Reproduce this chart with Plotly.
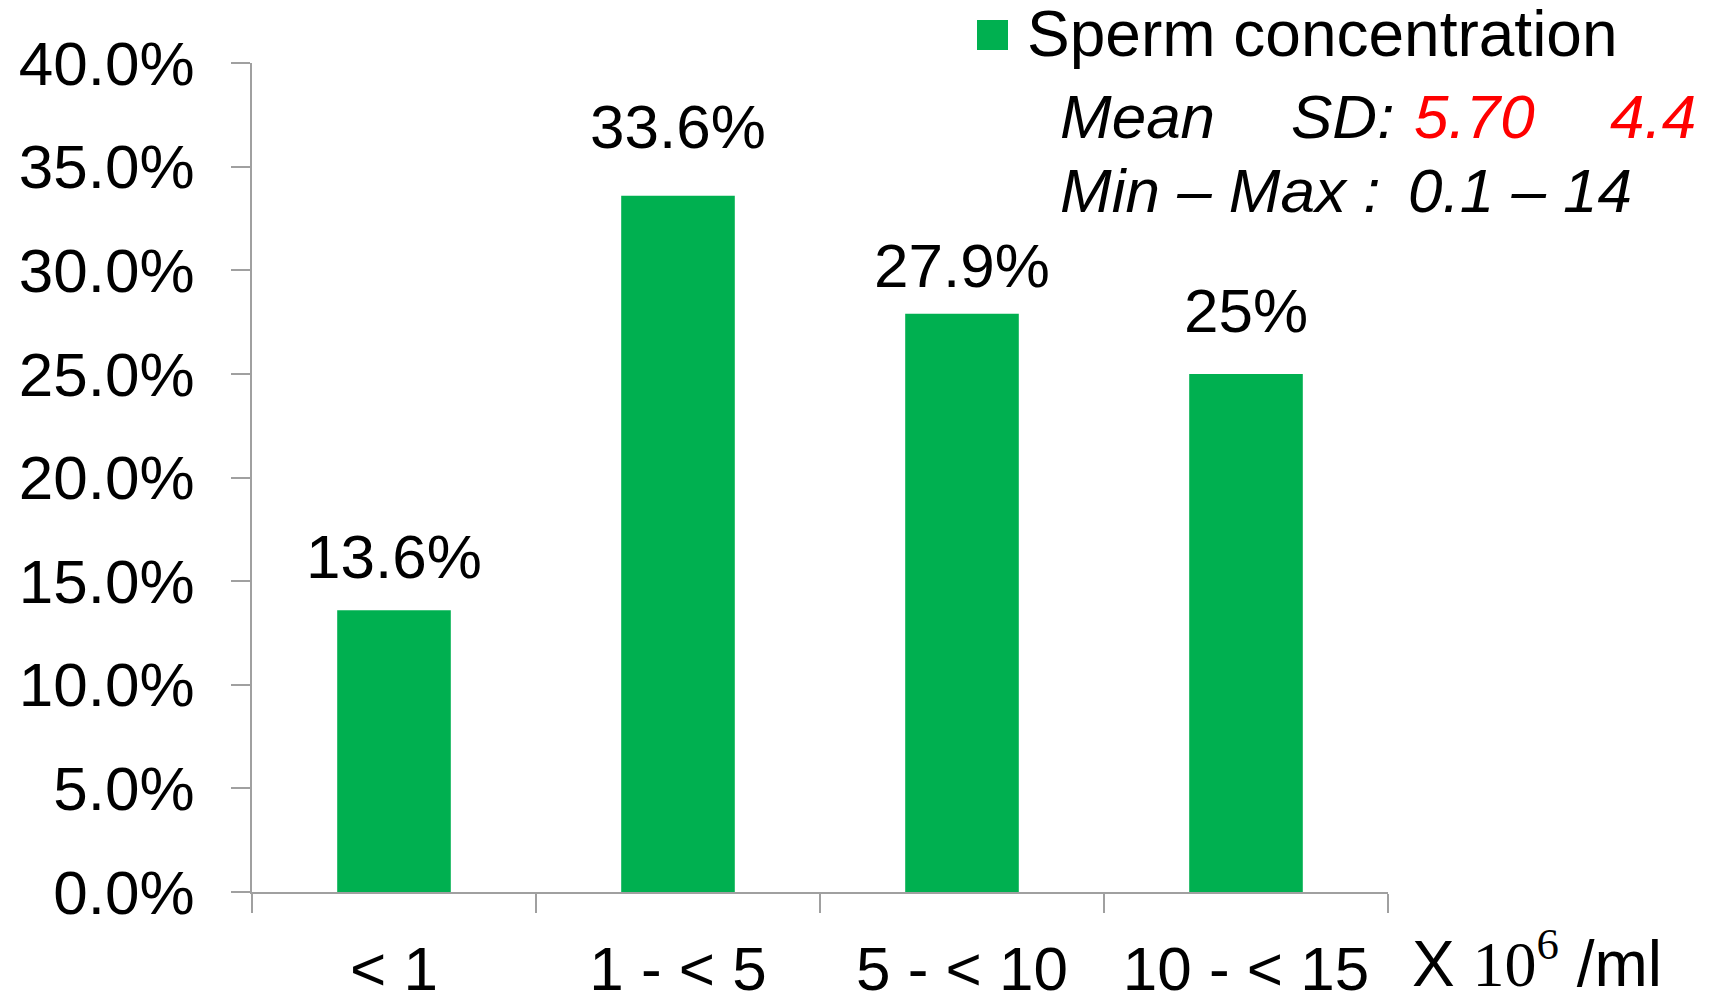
import plotly.graph_objects as go

# ---- data ----
categories = ["< 1", "1 - < 5", "5 - < 10", "10 - < 15"]
values = [0.136, 0.336, 0.279, 0.25]
value_labels = ["13.6%", "33.6%", "27.9%", "25%"]
series_name = "Sperm concentration"
stat_mean = "5.70"
stat_sd = "4.4"
stat_min = "0.1"
stat_max = "14"
unit_text = "X <span style='font-family:Liberation Serif'>10<sup>6</sup></span> /ml"

# ---- style / layout ----
W, H = 1716, 994
OFF = 8  # page body margin offset
L, R, T, B = 252 - OFF, 328 + OFF, 63 - OFF, 102 + OFF
FONT = "Liberation Sans, Arial, sans-serif"
FS = 62
GREEN = "#00B050"
RED = "#FF0000"
AXIS = "#A0A0A0"
label_yshift = [17, 33, 12, 27]  # manual label placement (px)

PW, PH = W - L - R, H - T - B


def px(xp):
    return (xp - OFF - L) / PW


def py(yp):
    return (H - B - (yp - OFF)) / PH


fig = go.Figure()
fig.add_trace(go.Bar(
    x=categories, y=values, marker_color=GREEN, marker_line_width=0,
    name=series_name, showlegend=False,
))

annotations = []
for c, v, t, s in zip(categories, values, value_labels, label_yshift):
    annotations.append(dict(
        x=c, y=v, xref="x", yref="y", text=t, showarrow=False,
        yanchor="bottom", xanchor="center", yshift=s,
        font=dict(family=FONT, size=FS, color="black"),
    ))


def txt(x, baseline, text, color="black", size=FS):
    return dict(xref="paper", yref="paper", x=px(x), y=py(baseline + 0.23 * size),
                xanchor="left", yanchor="bottom", text=text, showarrow=False,
                font=dict(family=FONT, size=size, color=color))


annotations += [
    txt(1025, 57, series_name, size=64),
    txt(1058, 139, "<i>Mean</i>"),
    txt(1289, 139, "<i>SD:</i>"),
    txt(1412, 139, f"<i>{stat_mean}</i>", RED),
    txt(1608, 139, f"<i>{stat_sd}</i>", RED),
    txt(1058, 213, "<i>Min – Max :</i>"),
    txt(1406, 213, f"<i>{stat_min} – {stat_max}</i>"),
    txt(1410, 987, unit_text, size=64),
]

shapes = [dict(type="rect", xref="paper", yref="paper", x0=px(977), x1=px(1008),
               y0=py(50), y1=py(20), fillcolor=GREEN, line_width=0)]

fig.update_layout(
    width=W, height=H,
    margin=dict(l=L, r=R, t=T, b=B, pad=0, autoexpand=False),
    paper_bgcolor="white", plot_bgcolor="white",
    bargap=0.6,
    font=dict(family=FONT, size=FS, color="black"),
    annotations=annotations, shapes=shapes,
    showlegend=False,
)
fig.update_xaxes(
    automargin=False,
    showline=True, linecolor=AXIS, linewidth=2,
    ticks="outside", tickson="boundaries", ticklen=19, tickwidth=2, tickcolor=AXIS,
    showgrid=False, tickfont=dict(family=FONT, size=FS, color="black"),
    ticklabelstandoff=22,
)
fig.update_yaxes(
    automargin=False,
    range=[0, 0.4], dtick=0.05, tickformat=".1%",
    showline=True, linecolor=AXIS, linewidth=2,
    ticks="outside", ticklen=19, tickwidth=2, tickcolor=AXIS,
    showgrid=False, zeroline=False, tickfont=dict(family=FONT, size=FS, color="black"),
    ticklabelstandoff=24,
)

fig.write_html("out.html")
